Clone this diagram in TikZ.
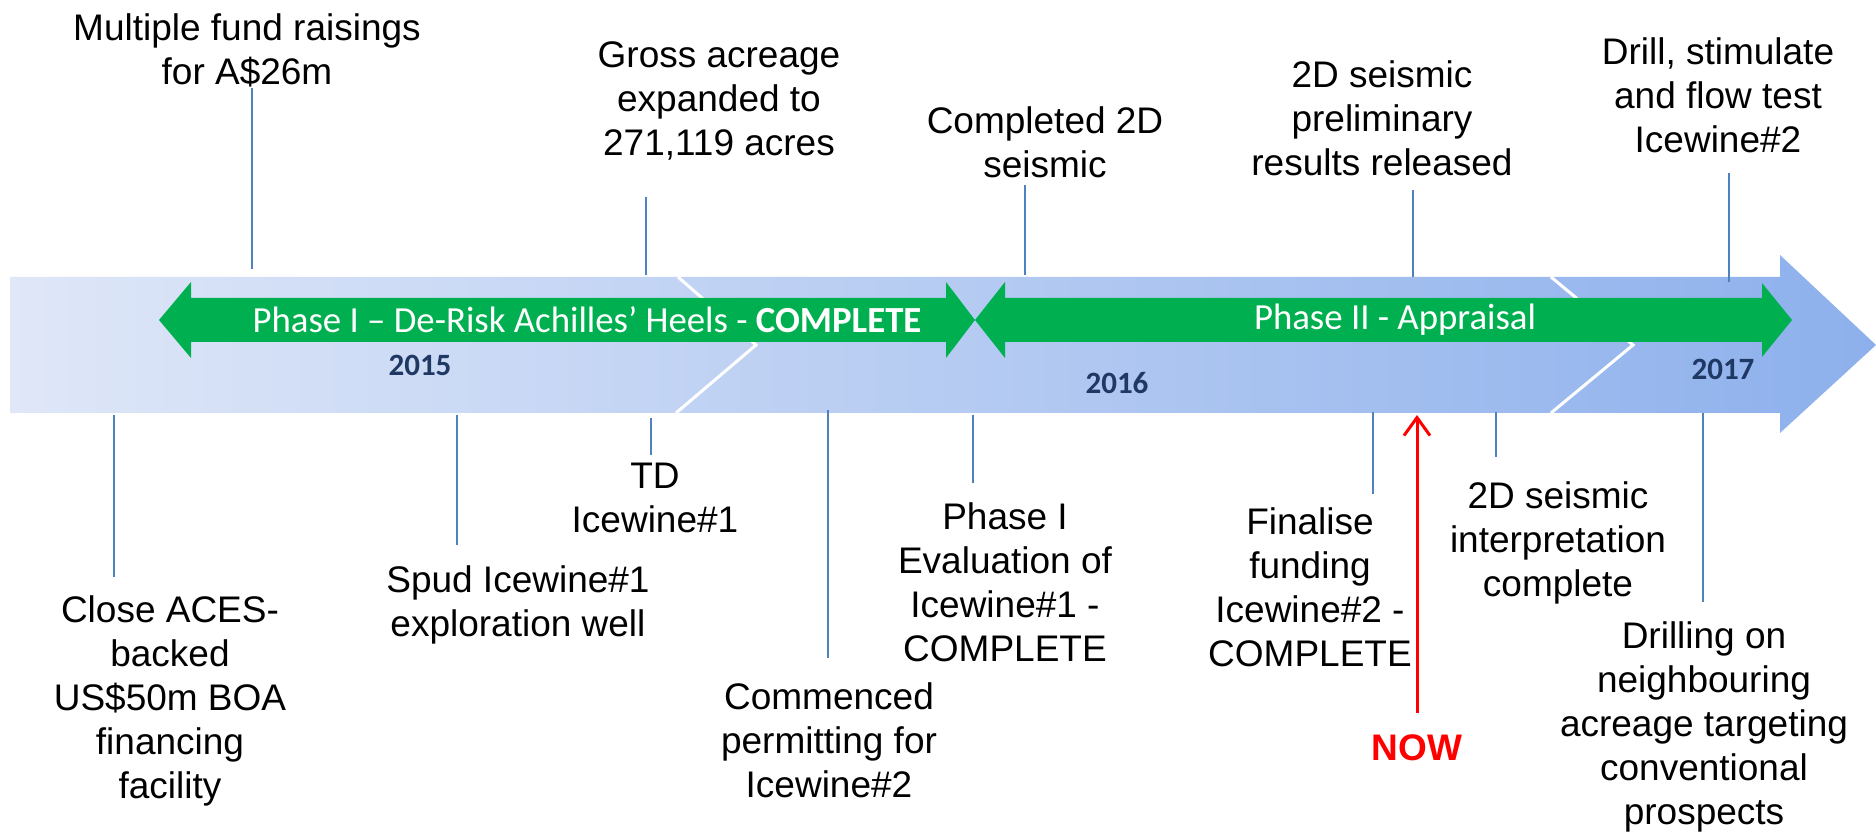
\documentclass[tikz,border=0pt]{standalone}
\usepackage{fontspec}
\setmainfont{Liberation Sans}
\newfontfamily\calibri{Carlito}
\usetikzlibrary{arrows.meta}

\definecolor{bandL}{RGB}{223,231,248}
\definecolor{bandR}{RGB}{141,176,236}
\definecolor{phasegreen}{RGB}{0,176,80}
\definecolor{yearblue}{RGB}{31,56,100}
\definecolor{leaderblue}{RGB}{79,129,189}

\begin{document}
\begin{tikzpicture}[x=0.5pt,y=-0.5pt,
	lbl/.style={anchor=north,align=center,inner sep=0pt,font=\fontsize{18.5}{22}\selectfont},
	yr/.style={inner sep=0pt,text=yearblue,font=\calibri\bfseries\fontsize{15.5}{18}\selectfont},
	phasetxt/.style={inner sep=0pt,text=white,font=\calibri\fontsize{18.4}{22}\selectfont},
	leader/.style={draw=leaderblue,line width=0.75pt},
	chevron/.style={draw=white,line width=1.5pt},
	nowarrow/.style={draw=red,line width=1.5pt,-{Straight Barb[length=9pt,width=13pt,line width=1.5pt]}}]
	\useasboundingbox (0,0) rectangle (1876,834);

	% timeline band
	\shade[left color=bandL,right color=bandR] (10,277) -- (1780,277) -- (1780,255) -- (1876,345) -- (1780,433) -- (1780,413) -- (10,413) -- cycle;
	\draw[chevron] (678,277) -- (756,345) -- (676,413);
	\draw[chevron] (1551,277) -- (1633,345) -- (1551,413);

	% phase arrows
	\fill[phasegreen] (159,320) -- (191,282) -- (191,298) -- (946,298) -- (946,282) -- (975,320) -- (946,358) -- (946,342) -- (191,342) -- (191,358) -- cycle;
	\fill[phasegreen] (975,320) -- (1005,282) -- (1005,298) -- (1762,298) -- (1762,283) -- (1792,320) -- (1762,357) -- (1762,342) -- (1005,342) -- (1005,358) -- cycle;
	\node[phasetxt] (ph1) at (587,320) {Phase I – De-Risk Achilles’ Heels - \textbf{COMPLETE}};
	\node[phasetxt] (ph2) at (1395,320) {Phase II - Appraisal};

	\node[yr] (y15) at (420,365) {2015};
	\node[yr] (y16) at (1117,383) {2016};
	\node[yr] (y17) at (1723,369) {2017};

	% events above
	\node[lbl] (raise) at (247,13) {Multiple fund raisings\\for A\$26m};
	\node[lbl] (gross) at (719,41) {Gross acreage\\expanded to\\271,119 acres};
	\node[lbl] (seis) at (1045,106) {Completed 2D\\seismic};
	\node[lbl] (prelim) at (1382,60) {2D seismic\\preliminary\\results released};
	\node[lbl] (drill) at (1718,37) {Drill, stimulate\\and flow test\\Icewine\#2};

	% events below
	\node[lbl] (aces) at (170,595) {Close ACES-\\backed\\US\$50m BOA\\financing\\facility};
	\node[lbl] (spud) at (518,565) {Spud Icewine\#1\\exploration well};
	\node[lbl] (td) at (655,463) {TD\\Icewine\#1};
	\node[lbl] (permit) at (829,682) {Commenced\\permitting for\\Icewine\#2};
	\node[lbl] (eval) at (1005,502) {Phase I\\Evaluation of\\Icewine\#1 -\\COMPLETE};
	\node[lbl] (fund) at (1310,507) {Finalise\\funding\\Icewine\#2 -\\COMPLETE};
	\node[lbl] (interp) at (1558,481) {2D seismic\\interpretation\\complete};
	\node[lbl] (neigh) at (1704,621) {Drilling on\\neighbouring\\acreage targeting\\conventional\\prospects};

	% leader lines
	\foreach \n/\x/\ya/\yb in {raise/252/88/269, gross/646/197/275, seis/1025/185/275, prelim/1413/190/277, drill/1729/173/282,
		aces/114/415/577, spud/457/415/545, td/651/418/455, permit/828/410/658, eval/973/415/483,
		fund/1373/412/494, interp/1496/412/457, neigh/1703/413/602}{
		\coordinate (\n-a) at (\x,\ya);
		\coordinate (\n-b) at (\x,\yb);
		\draw[leader] (\n-a) -- (\n-b);
	}

	% now marker
	\node[inner sep=0pt,text=red,font=\bfseries\fontsize{18.5}{22}\selectfont] (now) at (1417,748) {NOW};
	\coordinate (nowbase) at (1417,713);
	\coordinate (nowtip) at (1417,415);
	\draw[nowarrow] (nowbase) -- (nowtip);
\end{tikzpicture}
\end{document}
